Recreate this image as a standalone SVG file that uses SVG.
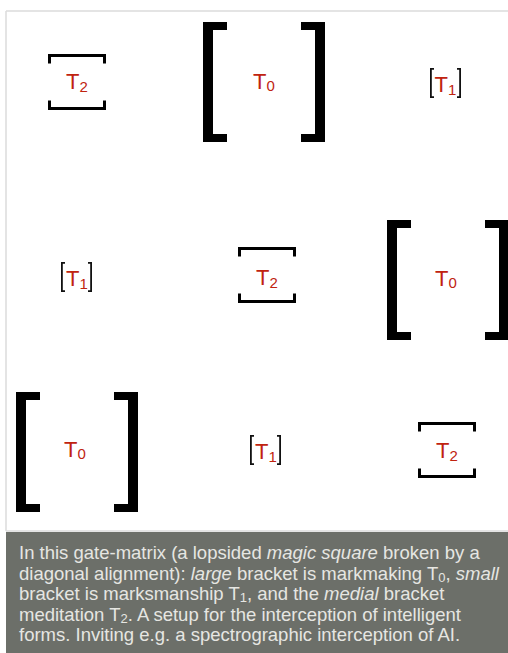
<svg xmlns="http://www.w3.org/2000/svg" xmlns:xlink="http://www.w3.org/1999/xlink" width="508" height="653" viewBox="0 0 508 653">
<style>
.lbl{font-family:"Liberation Sans",Arial,Helvetica,sans-serif;font-size:22px;fill:#c0230f;text-anchor:middle}
.lbl .sub{font-size:15px}
.cap{font-family:"Liberation Sans",Arial,Helvetica,sans-serif;font-size:18.5px;fill:#e6e6e2}
.cap .sub{font-size:13px}
.it{font-style:italic}
.md{fill:none;stroke:#000;stroke-width:3}
.sm{fill:none;stroke:#111;stroke-width:1.8}
.lg{fill:#000}
.frame{stroke:#dcdcdc;stroke-width:1.5;fill:none}
</style>
<defs>
<path id="lgB" class="lg" d="M0 0h24v8h-14v104h14v8h-24z M122 0h-24v8h14v104h-14v8h24z"/>
<path id="mdB" class="md" d="M1.5 9.5V1.5H56.5V9.5 M1.5 46.5V54.5H56.5V46.5"/>
<path id="smB" class="sm" d="M4 0.9H0.9V29.1H4 M27 0.9H30.1V29.1H27"/>
</defs>
<rect width="508" height="653" fill="#fff"/>
<g id="frame">
<path class="frame" d="M6 11H508 M6 11V531 M6 531H508"/>
</g>
<g id="connectors"></g>
<!-- row 1 -->
<g id="r1c1">
<use xlink:href="#mdB" x="48" y="54"/>
<text class="lbl" x="77" y="89">T<tspan class="sub" dy="3">2</tspan></text>
</g>
<g id="r1c2">
<use xlink:href="#lgB" x="203" y="22"/>
<text class="lbl" x="264" y="89">T<tspan class="sub" dy="2">0</tspan></text>
</g>
<g id="r1c3">
<use xlink:href="#smB" x="430" y="68"/>
<text class="lbl" x="445.5" y="91.5">T<tspan class="sub" dy="3">1</tspan></text>
</g>
<!-- row 2 -->
<g id="r2c1">
<use xlink:href="#smB" x="61" y="262"/>
<text class="lbl" x="77" y="286">T<tspan class="sub" dy="3">1</tspan></text>
</g>
<g id="r2c2">
<use xlink:href="#mdB" x="238" y="247"/>
<text class="lbl" x="267" y="285">T<tspan class="sub" dy="3">2</tspan></text>
</g>
<g id="r2c3">
<use xlink:href="#lgB" x="387" y="220"/>
<text class="lbl" x="446" y="286">T<tspan class="sub" dy="2">0</tspan></text>
</g>
<!-- row 3 -->
<g id="r3c1">
<use xlink:href="#lgB" x="16" y="392"/>
<text class="lbl" x="75" y="457">T<tspan class="sub" dy="2">0</tspan></text>
</g>
<g id="r3c2">
<use xlink:href="#smB" x="250" y="435"/>
<text class="lbl" x="266" y="459">T<tspan class="sub" dy="3">1</tspan></text>
</g>
<g id="r3c3">
<use xlink:href="#mdB" x="418" y="422"/>
<text class="lbl" x="447" y="458">T<tspan class="sub" dy="3">2</tspan></text>
</g>
<g id="caption">
<rect x="6" y="532" width="502" height="121" fill="#6c6f69"/>
<text class="cap" x="19" y="559">In this gate-matrix (a lopsided <tspan class="it">magic square</tspan> broken by a</text>
<text class="cap" x="19" y="579.5">diagonal alignment): <tspan class="it">large</tspan> bracket is markmaking T<tspan class="sub" dy="2">0</tspan><tspan dy="-2">, </tspan><tspan class="it">small</tspan></text>
<text class="cap" x="19" y="600">bracket is marksmanship T<tspan class="sub" dy="2">1</tspan><tspan dy="-2">, and the </tspan><tspan class="it">medial</tspan> bracket</text>
<text class="cap" x="19" y="620.5">meditation T<tspan class="sub" dy="2">2</tspan><tspan dy="-2">. A setup for the interception of intelligent</tspan></text>
<text class="cap" x="19" y="641">forms. Inviting e.g. a spectrographic interception of AI.</text>
</g>
</svg>
